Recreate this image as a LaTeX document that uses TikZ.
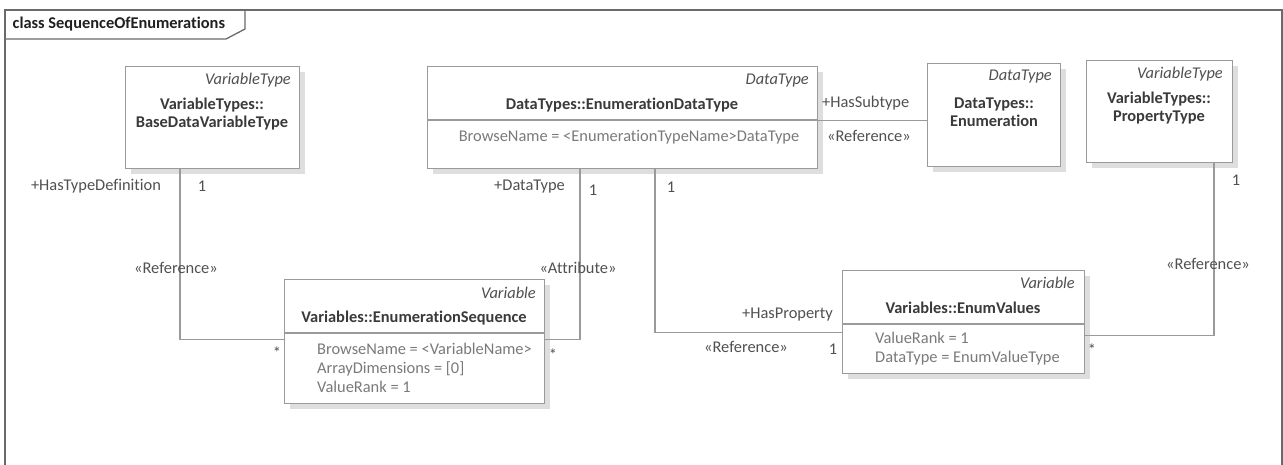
\documentclass[tikz,border=0pt]{standalone}
\usepackage{fontspec}
\setmainfont{Carlito}[Ligatures=NoCommon]
\usetikzlibrary{shadows}
\definecolor{boxline}{HTML}{9A9A9A}
\definecolor{shadowc}{HTML}{DEDEDE}
\definecolor{namec}{HTML}{3A3A3A}
\definecolor{labc}{HTML}{505050}
\definecolor{attrc}{HTML}{7A7A7A}
\definecolor{framec}{HTML}{6A6A6A}
\tikzset{
  umlbox/.style={draw=boxline, line width=1.3pt, fill=white, inner sep=0pt, anchor=north west,
    drop shadow={shadow xshift=5pt, shadow yshift=-5pt, fill=shadowc, opacity=1}},
  divider/.style={draw=boxline, line width=1.3pt},
  conn/.style={draw=boxline, line width=1.3pt},
  stereo/.style={font=\fontsize{16.4}{18.5}\selectfont\itshape, text=labc, inner sep=0pt, anchor=east},
  cname/.style={font=\fontsize{16.4}{18.5}\selectfont\bfseries, text=namec, inner sep=0pt, align=center},
  attr/.style={font=\fontsize{16.4}{19}\selectfont, text=attrc, inner sep=0pt, align=left},
  lab/.style={font=\fontsize{16.4}{18.5}\selectfont, text=labc, inner sep=0pt},
}
\begin{document}
\begin{tikzpicture}[x=1pt,y=-1pt]
\useasboundingbox (0,0) rectangle (1283,464);
\clip (0,0) rectangle (1283,464);
% frame
\draw[draw=framec, line width=2pt] (4.5,480) -- (4.5,10) -- (1281.5,10) -- (1281.5,480);
\draw[draw=framec, line width=1.3pt] (4.5,39) -- (226,39) -- (245,29) -- (245,10);
\node[anchor=west, inner sep=0pt, font=\fontsize{16.4}{19}\selectfont\bfseries, text=black!88] (title) at (12.5,24.5) {class SequenceOfEnumerations};

% boxes
\node[umlbox, minimum width=174pt, minimum height=102pt] (bdvt) at (125,66) {};
\node[umlbox, minimum width=390pt, minimum height=102pt] (edt) at (427,66) {};
\node[umlbox, minimum width=133pt, minimum height=103pt] (enum) at (927,63) {};
\node[umlbox, minimum width=146pt, minimum height=102pt] (prop) at (1086,60) {};
\node[umlbox, minimum width=260pt, minimum height=124pt] (seq) at (284,279) {};
\node[umlbox, minimum width=242pt, minimum height=103pt] (ev) at (842,270) {};

% dividers
\draw[divider] ([yshift=-54pt]edt.north west) -- ([yshift=-54pt]edt.north east);
\draw[divider] ([yshift=-54pt]seq.north west) -- ([yshift=-54pt]seq.north east);
\draw[divider] ([yshift=-54pt]ev.north west) -- ([yshift=-54pt]ev.north east);

% box texts
\node[stereo] (bdvtst) at (291,80) {VariableType};
\node[cname] (bdvtnm) at (212,114) {VariableTypes::\\BaseDataVariableType};

\node[stereo] (edtst) at (809,81) {DataType};
\node[cname] (edtnm) at (622,105) {DataTypes::EnumerationDataType};
\node[attr] (edtat) at (629,137) {BrowseName = <EnumerationTypeName>DataType};

\node[stereo] (enumst) at (1052,77) {DataType};
\node[cname] (enumnm) at (994,112) {DataTypes::\\Enumeration};

\node[stereo] (propst) at (1223,74) {VariableType};
\node[cname] (propnm) at (1159,108) {VariableTypes::\\PropertyType};

\node[stereo] (seqst) at (536,293) {Variable};
\node[cname] (seqnm) at (414,318) {Variables::EnumerationSequence};
\node[attr, anchor=west] (seqat) at (317,368) {BrowseName = <VariableName>\\ArrayDimensions = [0]\\ValueRank = 1};

\node[stereo] (evst) at (1075,283) {Variable};
\node[cname] (evnm) at (963,308) {Variables::EnumValues};
\node[attr, anchor=west] (evat) at (875,349) {ValueRank = 1\\DataType = EnumValueType};

% connectors
\draw[conn] ([xshift=55pt]bdvt.south west) |- ([yshift=2pt]seq.west);
\draw[conn] ([xshift=153pt]edt.south west) |- ([yshift=2pt]seq.east);
\draw[conn] ([yshift=-3pt]edt.east) -- ([yshift=-3pt]edt.east -| enum.west);
\draw[conn] ([xshift=228pt]edt.south west) |- ([yshift=-10.5pt]ev.west);
\draw[conn] ([xshift=128pt]prop.south west) |- ([yshift=-13.5pt]ev.east);

% labels
\node[lab] (l1) at (96,186) {+HasTypeDefinition};
\node[lab] (l2) at (202,186) {1};
\node[lab] (l3) at (176,268) {«Reference»};
\node[lab] (l4) at (277,353) {*};
\node[lab, anchor=east] (l5) at (565,187) {+DataType};
\node[lab] (l6) at (593,190) {1};
\node[lab] (l7) at (671,187) {1};
\node[lab] (l8) at (578,268) {«Attribute»};
\node[lab] (l9) at (553,355) {*};
\node[lab, anchor=west] (l10) at (822,103) {+HasSubtype};
\node[lab, anchor=west] (l11) at (827,136) {«Reference»};
\node[lab, anchor=east] (l12) at (833,315) {+HasProperty};
\node[lab] (l13) at (746,347) {«Reference»};
\node[lab] (l14) at (833,349) {1};
\node[lab] (l15) at (1092,350) {*};
\node[lab] (l16) at (1236,180) {1};
\node[lab] (l17) at (1208,264) {«Reference»};
\end{tikzpicture}
\end{document}
